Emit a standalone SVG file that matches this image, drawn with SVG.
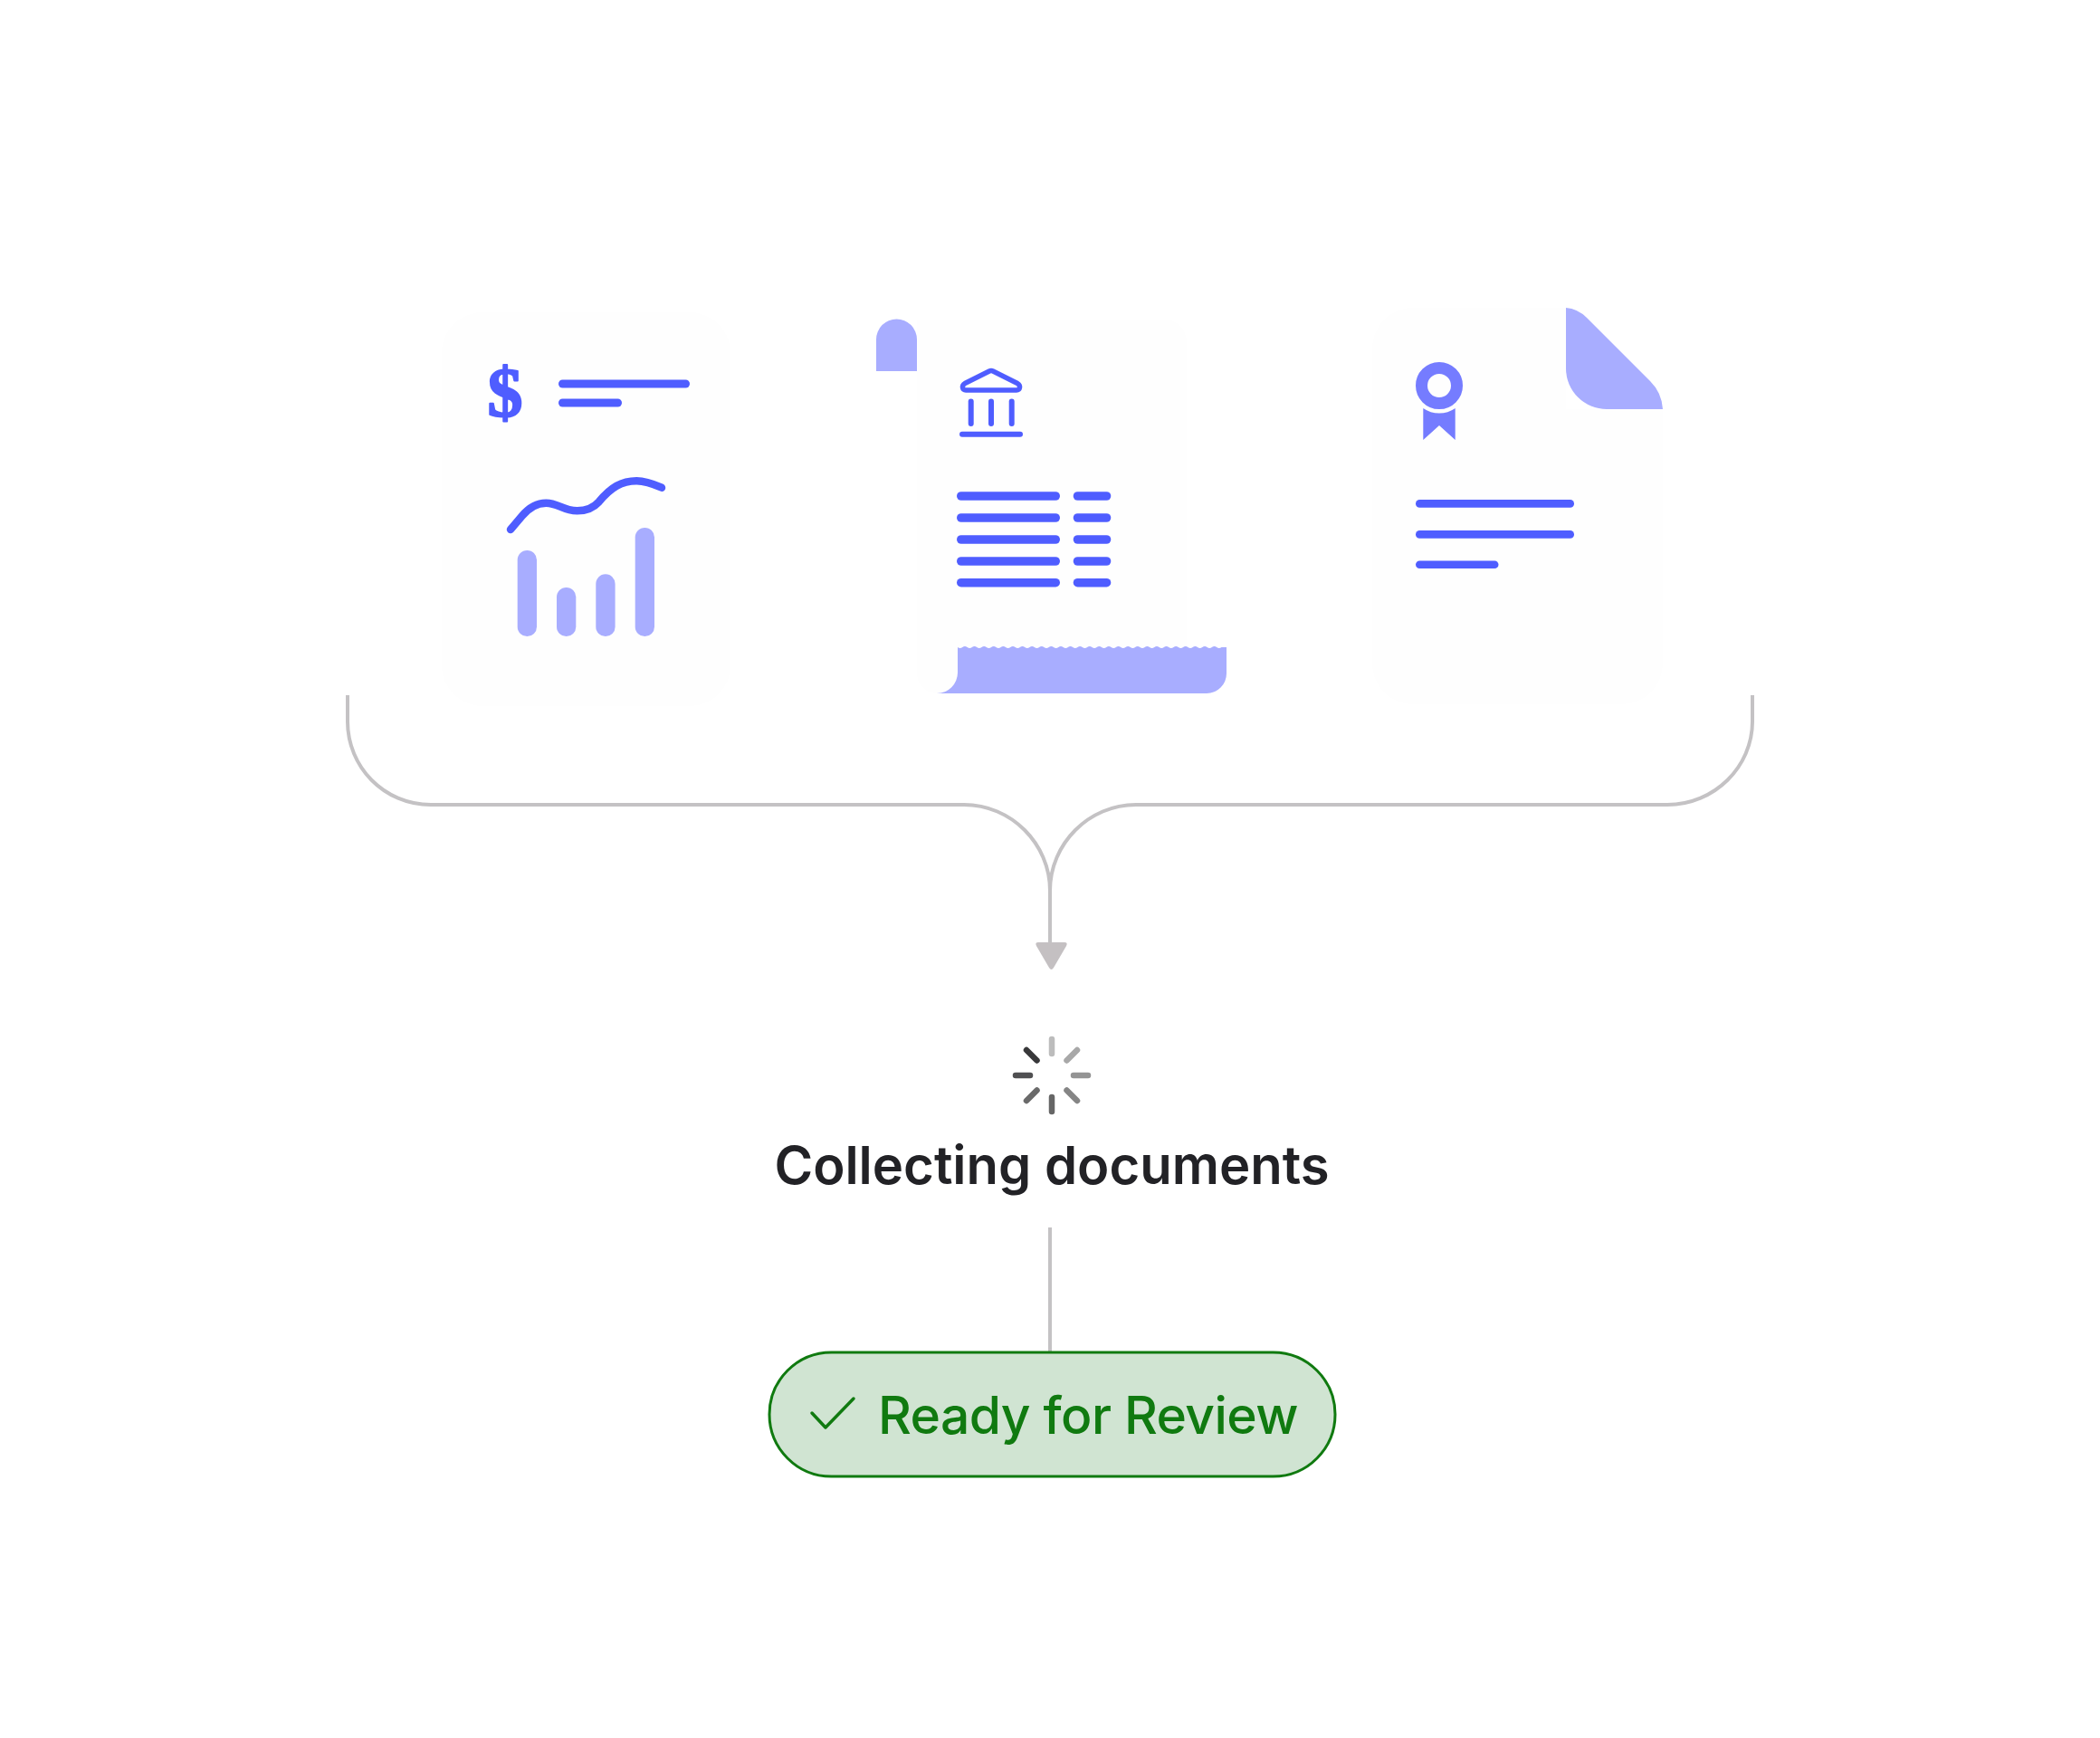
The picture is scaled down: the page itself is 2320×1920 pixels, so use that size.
<svg xmlns="http://www.w3.org/2000/svg" width="2320" height="1920" viewBox="0 0 2320 1920">
<style>
.paper{fill:#fefefe}
.ink{fill:#4f5dff}
.soft{fill:#a8adff}
.conn{fill:none;stroke:#c4c2c4;stroke-width:4}
.spin{stroke-width:6.500;stroke-linecap:round}
</style>
<rect width="2320" height="1920" fill="#ffffff"/>
<g id="connectors">
<path class="conn" d="M384 768V797C384 847 424 889 476 889H1065C1117 889 1160 932 1160 984V1045"/>
<path class="conn" d="M1936 768V797C1936 847 1894 889 1842 889H1255C1203 889 1160 932 1160 984"/>
<path d="M1147 1041H1176Q1180 1041 1178 1045L1164 1069Q1161.500 1073 1159 1069L1145 1045Q1143 1041 1147 1041Z" fill="#c4c0c2"/>
<path class="conn" d="M1160 1356V1494"/>
</g>
<g id="statement-doc">
<rect class="paper" x="488" y="345" width="319" height="435" rx="45"/>
<text x="558" y="460" font-family="'Liberation Serif',serif" font-weight="700" font-size="78" text-anchor="middle" class="ink" stroke="#4f5dff" stroke-width="2" stroke-linejoin="round">$</text>
<rect class="ink" x="617" y="419.500" width="145" height="9" rx="4.500"/>
<rect class="ink" x="617" y="440.500" width="70" height="9" rx="4.500"/>
<path d="M564 585L576.700 570C585 560 593.300 555.700 603.300 555.700C616.700 555.700 621.700 564.300 637.700 564.300C646.700 564.300 655 561.700 661.700 554.300C675 538.300 686.700 531.300 703.300 531.300C713.300 531.300 721.700 534.700 731 538.700" fill="none" stroke="#4f5dff" stroke-width="8.500" stroke-linecap="round"/>
<rect class="soft" x="571.700" y="608" width="21.300" height="95" rx="10.600"/>
<rect class="soft" x="615" y="649" width="21.300" height="54" rx="10.600"/>
<rect class="soft" x="658.300" y="634.300" width="21.300" height="68.700" rx="10.600"/>
<rect class="soft" x="701.700" y="583" width="21.300" height="120" rx="10.600"/>
</g>
<g id="bank-doc">
<path class="soft" d="M968 410V375A22.500 22.500 0 0 1 1013 375V410Z"/>
<path class="paper" d="M1013 352.700H1286A25 25 0 0 1 1311 377.700V730H1058V743A23 23 0 0 1 1035 766A22 22 0 0 1 1013 744Z"/>
<path class="soft" d="M1058 715q2.650 2 5.300 0t5.300 0t5.300 0t5.300 0t5.300 0t5.300 0t5.300 0t5.300 0t5.300 0t5.300 0t5.300 0t5.300 0t5.300 0t5.300 0t5.300 0t5.300 0t5.300 0t5.300 0t5.300 0t5.300 0t5.300 0t5.300 0t5.300 0t5.300 0t5.300 0t5.300 0t5.300 0t5.300 0t5.300 0t5.300 0t5.300 0t5.300 0t5.300 0t5.300 0t5.300 0t5.300 0t5.300 0t5.300 0t5.300 0t5.300 0t5.300 0t5.300 0t5.300 0t5.300 0t5.300 0t5.300 0t5.300 0t5.300 0t5.300 0t5.300 0t5.300 0t5.300 0t5.300 0t5.300 0t5.300 0H1355V744A22 22 0 0 1 1333 766H1035A23 23 0 0 0 1058 743Z"/>
<path d="M1093 410Q1095 409 1097 410L1124 423.500C1128 426 1127 431 1123 431H1067C1063 431 1062 426 1066 423.500Z" fill="none" stroke="#4f5dff" stroke-width="5.500" stroke-linejoin="round"/>
<rect class="ink" x="1069.700" y="440.500" width="6" height="30.500" rx="3"/>
<rect class="ink" x="1092" y="440.500" width="6" height="30.500" rx="3"/>
<rect class="ink" x="1114.700" y="440.500" width="6" height="30.500" rx="3"/>
<rect class="ink" x="1060" y="476.700" width="70" height="6" rx="3"/>
<rect class="ink" x="1057" y="543.200" width="114" height="9.600" rx="4.800"/>
<rect class="ink" x="1057" y="567.200" width="114" height="9.600" rx="4.800"/>
<rect class="ink" x="1057" y="591.200" width="114" height="9.600" rx="4.800"/>
<rect class="ink" x="1057" y="615.200" width="114" height="9.600" rx="4.800"/>
<rect class="ink" x="1057" y="638.900" width="114" height="9.600" rx="4.800"/>
<rect class="ink" x="1185.700" y="543.200" width="41.600" height="9.600" rx="4.800"/>
<rect class="ink" x="1185.700" y="567.200" width="41.600" height="9.600" rx="4.800"/>
<rect class="ink" x="1185.700" y="591.200" width="41.600" height="9.600" rx="4.800"/>
<rect class="ink" x="1185.700" y="615.200" width="41.600" height="9.600" rx="4.800"/>
<rect class="ink" x="1185.700" y="638.900" width="41.600" height="9.600" rx="4.800"/>
</g>
<g id="certificate-doc">
<path class="paper" d="M1561 340H1730V452H1837V733A45 45 0 0 1 1792 778H1561A45 45 0 0 1 1516 733V385A45 45 0 0 1 1561 340Z"/>
<path class="soft" d="M1730 340Q1743 341 1753 351L1823 421Q1836 434 1837 452H1775A45 45 0 0 1 1730 407Z"/>
<circle cx="1590" cy="426" r="19.500" fill="none" stroke="#757cff" stroke-width="13"/>
<path d="M1572.300 451A31 31 0 0 0 1607.700 451V486L1590 470L1572.300 486Z" fill="#757cff"/>
<rect class="ink" x="1564" y="552" width="175" height="8.700" rx="4.300"/>
<rect class="ink" x="1564" y="586" width="175" height="8.700" rx="4.300"/>
<rect class="ink" x="1564" y="619.400" width="91.500" height="8.700" rx="4.300"/>
</g>
<g id="collecting">
<g class="spin">
<line x1="1162" y1="1148" x2="1162" y2="1164" stroke="#bcbcbc"/>
<line x1="1190" y1="1160" x2="1178.500" y2="1171.500" stroke="#a8a8a8"/>
<line x1="1202" y1="1188" x2="1186" y2="1188" stroke="#949494"/>
<line x1="1190" y1="1216" x2="1178.500" y2="1204.500" stroke="#858585"/>
<line x1="1162" y1="1228" x2="1162" y2="1212" stroke="#666666"/>
<line x1="1134" y1="1216" x2="1145.500" y2="1204.500" stroke="#6a6a6a"/>
<line x1="1122" y1="1188" x2="1138" y2="1188" stroke="#505052"/>
<line x1="1134" y1="1160" x2="1145.500" y2="1171.500" stroke="#38383a"/>
</g>
<text x="1162" y="1308" text-anchor="middle" font-family="Inter,sans-serif" font-weight="600" font-size="58" fill="#222226">Collecting documents</text>
</g>
<g id="ready">
<rect x="850" y="1494" width="625" height="137" rx="68.500" fill="#d0e4d2" stroke="#107a10" stroke-width="3"/>
<path d="M897 1561L912 1577L943 1545" fill="none" stroke="#107a10" stroke-width="3.500" stroke-linecap="round" stroke-linejoin="round"/>
<text x="970" y="1584" font-family="Inter,sans-serif" font-weight="500" font-size="57" letter-spacing="-0.600" fill="#107a10">Ready for Review</text>
</g>
</svg>
